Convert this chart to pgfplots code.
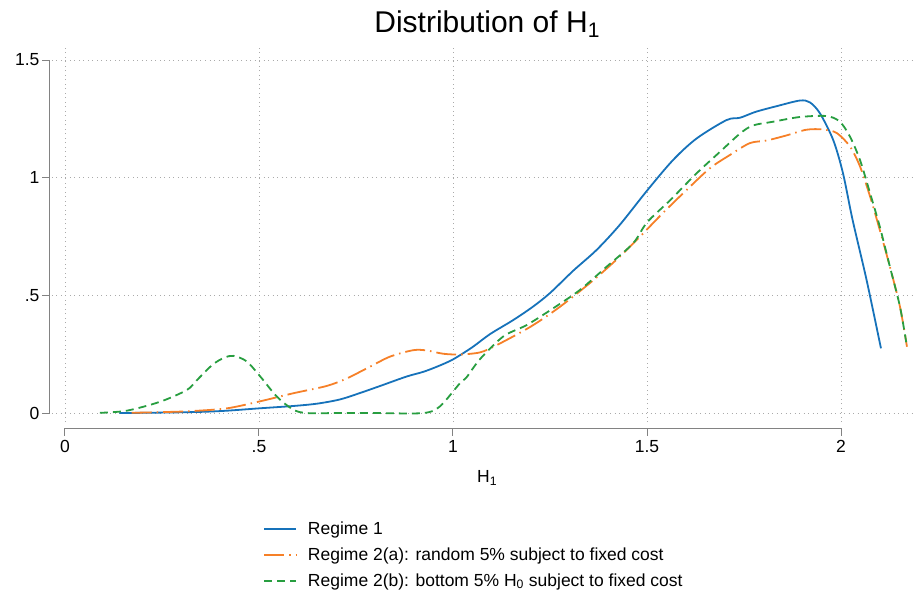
\documentclass[border=0pt]{standalone}
\usepackage{fontspec}
\setmainfont{Liberation Sans}
\usepackage{pgfplots}
\pgfplotsset{compat=1.18}
\definecolor{cblue}{RGB}{22,114,186}
\definecolor{corange}{RGB}{246,128,40}
\definecolor{cgreen}{RGB}{40,158,64}
\definecolor{gridc}{RGB}{170,170,170}
\definecolor{axc}{RGB}{130,130,130}
\begin{document}
\begin{tikzpicture}
\useasboundingbox (-52pt,-176pt) rectangle (862pt,422pt);
\begin{axis}[
  at={(0pt,0pt)}, anchor=south west,
  scale only axis, width=860pt, height=377pt,
  xmin=-0.0335, xmax=2.183, ymin=-0.038, ymax=1.564,
  clip=false,
  axis line style={draw=none},
  xtick={0,0.5,1,1.5,2}, xticklabels={0,.5,1,1.5,2},
  ytick={0,0.5,1,1.5}, yticklabels={0,.5,1,1.5},
  major tick length=0pt, tick style={draw=none},
  grid=major,
  major grid style={gridc, line width=0.9pt, dash pattern=on 0.9pt off 3.6pt},
  ticklabel style={font=\fontsize{17.5}{20}\selectfont},
  xticklabel style={yshift=-15pt},
  yticklabel style={xshift=-9pt},
  title={Distribution of H\textsubscript{1}},
  title style={font=\fontsize{30}{34}\selectfont, at={(axis description cs:0.506,1)}, anchor=base, yshift=7pt},
  xlabel={H\textsubscript{1}},
  xlabel style={font=\fontsize{17.5}{20}\selectfont, at={(axis description cs:0.506,0)}, anchor=center, yshift=-56pt},
  legend style={at={(axis description cs:0.2453,-0.26)}, anchor=north west, draw=none, fill=none,
    font=\fontsize{17.5}{20}\selectfont, inner sep=0pt, row sep=7.5pt, column sep=9pt},
  legend cell align=left,
  legend image code/.code={\draw[#1] (0pt,0pt) -- (32pt,0pt);},
  every axis plot/.append style={line width=1.8pt, smooth, tension=0.5},
]
\addplot[cblue] coordinates {
(0.14,0.0) (0.25,0.002) (0.35,0.005) (0.417,0.01) (0.5,0.02) (0.588,0.03) (0.65,0.04) (0.709,0.058) (0.76,0.085) (0.812,0.115) (0.88,0.155) (0.923,0.175) (0.96,0.198) (1.0,0.228) (1.05,0.28) (1.095,0.335) (1.155,0.395) (1.206,0.452) (1.25,0.51) (1.31,0.605) (1.37,0.693) (1.43,0.80) (1.5,0.945) (1.567,1.075) (1.628,1.167) (1.705,1.245) (1.74,1.255) (1.78,1.28) (1.834,1.304) (1.894,1.328) (1.92,1.32) (1.946,1.273) (1.98,1.16) (2.005,1.02) (2.03,0.82) (2.066,0.565) (2.103,0.275)
};
\addlegendentry{Regime 1}
\addplot[corange, dash pattern=on 20pt off 5pt on 1.5pt off 5pt] coordinates {
(0.172,0.001) (0.25,0.004) (0.322,0.008) (0.417,0.02) (0.503,0.05) (0.588,0.084) (0.674,0.115) (0.726,0.147) (0.786,0.197) (0.838,0.24) (0.897,0.267) (0.932,0.266) (0.975,0.252) (1.018,0.249) (1.07,0.258) (1.113,0.289) (1.2,0.367) (1.276,0.452) (1.362,0.565) (1.43,0.665) (1.482,0.75) (1.541,0.85) (1.602,0.948) (1.662,1.04) (1.714,1.097) (1.765,1.147) (1.808,1.158) (1.86,1.18) (1.911,1.204) (1.954,1.205) (1.989,1.19) (2.023,1.133) (2.049,1.048) (2.075,0.92) (2.1,0.778) (2.126,0.622) (2.152,0.452) (2.17,0.282)
};
\addlegendentry{Regime 2(a): random 5\% subject to fixed cost}
\addplot[cgreen, dash pattern=on 8pt off 5pt] coordinates {
(0.09,0.001) (0.159,0.01) (0.245,0.048) (0.314,0.098) (0.34,0.14) (0.38,0.205) (0.41,0.235) (0.434,0.243) (0.468,0.22) (0.503,0.156) (0.546,0.07) (0.588,0.015) (0.623,0.0) (0.7,0) (0.8,0) (0.923,0) (0.966,0.028) (1.018,0.127) (1.035,0.152) (1.07,0.23) (1.13,0.326) (1.19,0.374) (1.258,0.445) (1.327,0.523) (1.396,0.622) (1.464,0.721) (1.5,0.81) (1.56,0.905) (1.628,1.019) (1.688,1.11) (1.74,1.188) (1.773,1.222) (1.825,1.238) (1.894,1.258) (1.963,1.262) (1.997,1.238) (2.023,1.175) (2.049,1.075) (2.075,0.934) (2.1,0.792) (2.126,0.622) (2.152,0.452) (2.17,0.282)
};
\addlegendentry{Regime 2(b): bottom 5\% H\textsubscript{0} subject to fixed cost}
\draw[axc, line width=1pt] ([yshift=-6pt]axis cs:0,-0.038) -- ([yshift=-6pt]axis cs:2,-0.038);
\draw[axc, line width=1pt] ([xshift=-2pt]axis cs:-0.0335,0) -- ([xshift=-2pt]axis cs:-0.0335,1.5);
\pgfplotsinvokeforeach{0,0.5,1,1.5,2}{
  \draw[axc, line width=1pt] ([yshift=-6pt]axis cs:#1,-0.038) -- ([yshift=-14pt]axis cs:#1,-0.038);
}
\pgfplotsinvokeforeach{0,0.5,1,1.5}{
  \draw[axc, line width=1pt] ([xshift=-2pt]axis cs:-0.0335,#1) -- ([xshift=-10pt]axis cs:-0.0335,#1);
}
\end{axis}
\end{tikzpicture}
\end{document}
